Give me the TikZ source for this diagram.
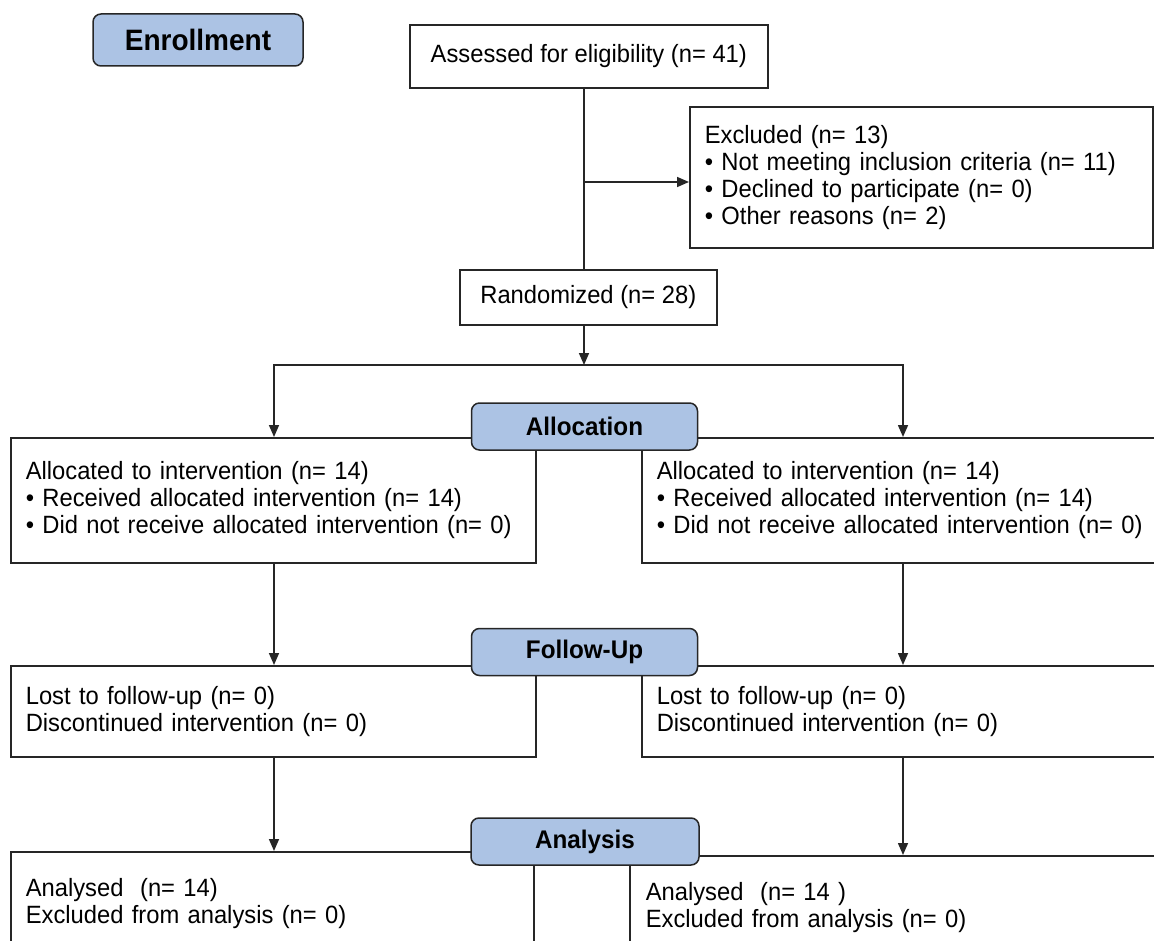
\documentclass[tikz,border=0pt]{standalone}
\usepackage{fontspec}
\setmainfont{Liberation Sans}[FakeStretch=0.95]
\usetikzlibrary{arrows.meta,positioning,calc}
\definecolor{stageblue}{RGB}{172,195,228}
\definecolor{linegray}{RGB}{38,38,38}
\tikzset{
	stage/.style={
		rectangle,
		rounded corners=8pt,
		line width=1.5pt,
		draw=linegray,
		fill=stageblue,
		font=\bfseries\fontsize{25.5}{28}\selectfont,
		minimum width=226pt,
		minimum height=47pt,
	},
	box/.style={
		rectangle,
		line width=1.6pt,
		draw=linegray,
		fill=white,
		font=\fontsize{25}{27}\selectfont,
		align=left,
		inner xsep=15pt,
		anchor=north west,
	},
}

\begin{document}
\begin{tikzpicture}[x=1pt, y=-1pt, >={Triangle[length=12pt,width=10pt]}, line width=1.6pt, draw=linegray]

	\useasboundingbox (0,0) rectangle (1154,941);
	\clip (0,0) rectangle (1154,941);

	\node [box, minimum width=358pt, minimum height=63pt, align=center] (assess) at (409,24) {Assessed for eligibility (n= 41)};
	\node [box, text width=433pt, minimum height=141pt] (excl) at (689,106) {Excluded (n= 13)\\• Not meeting inclusion criteria (n= 11)\\• Declined to participate (n= 0)\\• Other reasons (n= 2)};
	\node [box, minimum width=257pt, minimum height=55pt, align=center] (rand) at (459,269) {Randomized (n= 28)};

	\node [box, text width=495pt, minimum height=125pt] (allocL) at (10,437) {Allocated to intervention (n= 14)\\• Received allocated intervention (n= 14)\\• Did not receive allocated intervention (n= 0)};
	\node [box, text width=486pt, minimum height=125pt] (allocR) at (641,437) {Allocated to intervention (n= 14)\\• Received allocated intervention (n= 14)\\• Did not receive allocated intervention (n= 0)};

	\node [box, text width=495pt, minimum height=91pt] (fuL) at (10,665) {Lost to follow-up (n= 0)\\Discontinued intervention (n= 0)};
	\node [box, text width=486pt, minimum height=91pt] (fuR) at (641,665) {Lost to follow-up (n= 0)\\Discontinued intervention (n= 0)};

	\node [box, text width=493pt, inner ysep=27pt] (anaL) at (10,851) {Analysed\ \ (n= 14)\\Excluded from analysis (n= 0)};
	\node [box, text width=510pt, inner xsep=16pt, inner ysep=27pt] (anaR) at (629,855) {Analysed\ \ (n= 14 )\\Excluded from analysis (n= 0)};

	\coordinate (trunk) at (584,182);
	\coordinate (splitL) at (274,365);
	\coordinate (splitR) at (903,365);

	\draw (assess.south -| trunk) -- (rand.north -| trunk);
	\draw [->] (trunk) -- (excl.west |- trunk);
	\draw [->] (rand.south -| trunk) -- (trunk |- splitL);
	\draw [->] (trunk |- splitL) -- (splitL) -- (allocL.north -| splitL);
	\draw [->] (trunk |- splitL) -- (splitR) -- (allocR.north -| splitR);
	\draw [->] (allocL.south -| splitL) -- (fuL.north -| splitL);
	\draw [->] (allocR.south -| splitR) -- (fuR.north -| splitR);
	\draw [->] (fuL.south -| splitL) -- (anaL.north -| splitL);
	\draw [->] (fuR.south -| splitR) -- (anaR.north -| splitR);

	\node [stage, minimum width=210pt, minimum height=52pt, font=\bfseries\fontsize{29.5}{32}\selectfont] (enroll) at (198,40) {Enrollment};
	\node [stage] (alloc) at (584.5,426.5) {Allocation};
	\node [stage] (follow) at (584.5,652) {Follow-Up};
	\node [stage, minimum width=228pt] (analysis) at (585,841.5) {Analysis};

\end{tikzpicture}
\end{document}
